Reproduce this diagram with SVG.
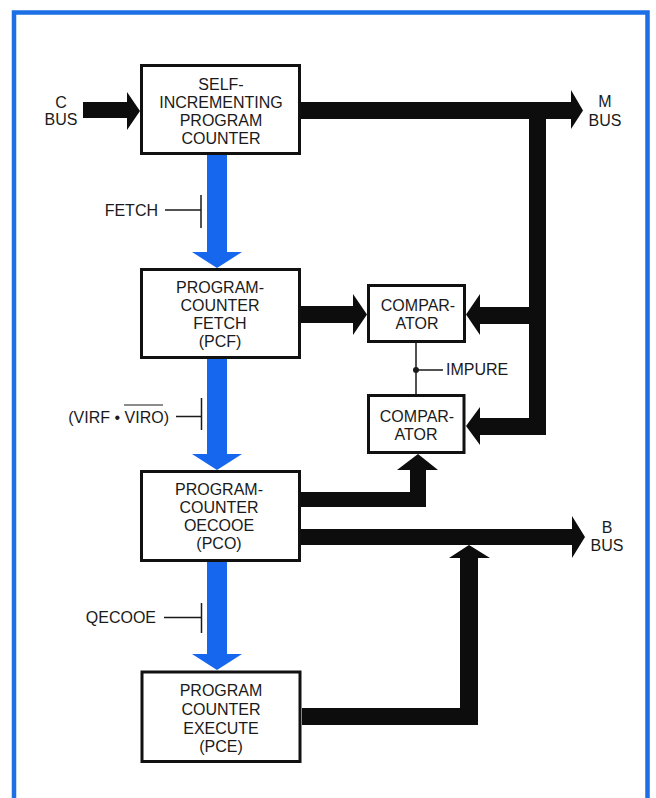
<svg xmlns="http://www.w3.org/2000/svg" width="656" height="798" viewBox="0 0 656 798">
<style>
  text { font-family: "Liberation Sans", Arial, sans-serif; font-size: 16px; fill: #1a1a1a; }
  .c { text-anchor: middle; }
  .e { text-anchor: end; }
  .box { fill: #ffffff; stroke: #111111; stroke-width: 3; }
  .bus { fill: #0d0d0d; }
  .flow { fill: #1666ee; }
  .thin { stroke: #1a1a1a; stroke-width: 1.5; fill: none; }
  .frame { stroke: #1d6fe6; stroke-width: 4.5; fill: none; }
</style>
<rect x="0" y="0" width="656" height="798" fill="#ffffff"/>
<path class="frame" d="M14,800 V12.5 H647.5 V800"/>

<g id="connectors">
  <!-- C bus into self-incrementing counter -->
  <path class="bus" d="M83,102 H127 V92 L140,111 L127,130 V118 H83 Z"/>
  <!-- M bus -->
  <path class="bus" d="M301,102 H571 V90 L583,110.5 L571,129 V119 H301 Z"/>
  <rect class="bus" x="529" y="102" width="17" height="333"/>
  <path class="bus" d="M529,307 H480 V294 L466,314.5 L480,335 V324 H529 Z"/>
  <path class="bus" d="M529,418 H480 V407 L466,426 L480,445 V435 H529 Z"/>
  <!-- PCF to comparator -->
  <path class="bus" d="M301,306 H353 V294 L367,314.5 L353,335 V323 H301 Z"/>
  <!-- PCO to comparator -->
  <path class="bus" d="M301,492 H410 V470 H397 L418,454 L438,470 H426 V507 H301 Z"/>
  <!-- PCO to B bus -->
  <path class="bus" d="M301,529 H572 V516 L585,537 L572,558 V545 H301 Z"/>
  <!-- PCE to B bus -->
  <path class="bus" d="M302,708 H460 V558 H449 L469,545 L490,558 H478 V725 H302 Z"/>
  <!-- blue sequence arrows -->
  <path class="flow" d="M207,154 H227 V252 H242 L217,268 L192,252 H207 Z"/>
  <path class="flow" d="M207,358 H227 V454 H242 L217,470 L192,454 H207 Z"/>
  <path class="flow" d="M207,561 H227 V654 H242 L217,670 L192,654 H207 Z"/>
  <!-- condition ticks -->
  <path class="thin" d="M165,210 H201 M201,195 V228"/>
  <path class="thin" d="M176,416.5 H201.5 M201.5,398 V430"/>
  <path class="thin" d="M164,617.5 H201.5 M201.5,603 V633"/>
  <!-- IMPURE link between comparators -->
  <path class="thin" d="M416,343 V394 M416,370 H443"/>
  <circle cx="416" cy="370" r="3" fill="#1a1a1a"/>
</g>

<g id="labels">
  <text class="c" x="61" y="108">C</text>
  <text class="c" x="61" y="125">BUS</text>
  <text class="c" x="605" y="107">M</text>
  <text class="c" x="605" y="125.5">BUS</text>
  <text class="c" x="607" y="532.5">B</text>
  <text class="c" x="607" y="550.5">BUS</text>
  <text class="e" x="158" y="216">FETCH</text>
  <text class="e" x="169" y="423">(VIRF • VIRO)</text>
  <line x1="124" y1="405" x2="163" y2="405" stroke="#1a1a1a" stroke-width="1.2"/>
  <text class="e" x="156" y="623">QECOOE</text>
  <text x="446" y="375">IMPURE</text>
</g>

<g id="sipc">
  <rect class="box" x="141.5" y="65.5" width="158" height="88"/>
  <text class="c" x="221" y="90">SELF-</text>
  <text class="c" x="221" y="108">INCREMENTING</text>
  <text class="c" x="221" y="126">PROGRAM</text>
  <text class="c" x="221" y="143.5">COUNTER</text>
</g>

<g id="pcf">
  <rect class="box" x="141.5" y="269.5" width="158" height="88"/>
  <text class="c" x="220" y="292.5">PROGRAM-</text>
  <text class="c" x="220" y="310.5">COUNTER</text>
  <text class="c" x="220" y="328.5">FETCH</text>
  <text class="c" x="220" y="346.5">(PCF)</text>
</g>

<g id="pco">
  <rect class="box" x="141.5" y="471.5" width="158" height="89"/>
  <text class="c" x="219" y="495">PROGRAM-</text>
  <text class="c" x="219" y="513">COUNTER</text>
  <text class="c" x="219" y="531">OECOOE</text>
  <text class="c" x="219" y="548.5">(PCO)</text>
</g>

<g id="pce">
  <rect class="box" x="142" y="672" width="158" height="89.5"/>
  <text class="c" x="221" y="696">PROGRAM</text>
  <text class="c" x="221" y="715">COUNTER</text>
  <text class="c" x="221" y="733.5">EXECUTE</text>
  <text class="c" x="221" y="751.5">(PCE)</text>
</g>

<g id="comparator1">
  <rect class="box" x="368.5" y="285.5" width="96" height="56"/>
  <text class="c" x="418" y="311">COMPAR-</text>
  <text class="c" x="417" y="328.5">ATOR</text>
</g>

<g id="comparator2">
  <rect class="box" x="368.5" y="395.5" width="95.5" height="57"/>
  <text class="c" x="417" y="422">COMPAR-</text>
  <text class="c" x="416" y="439.5">ATOR</text>
</g>
</svg>
